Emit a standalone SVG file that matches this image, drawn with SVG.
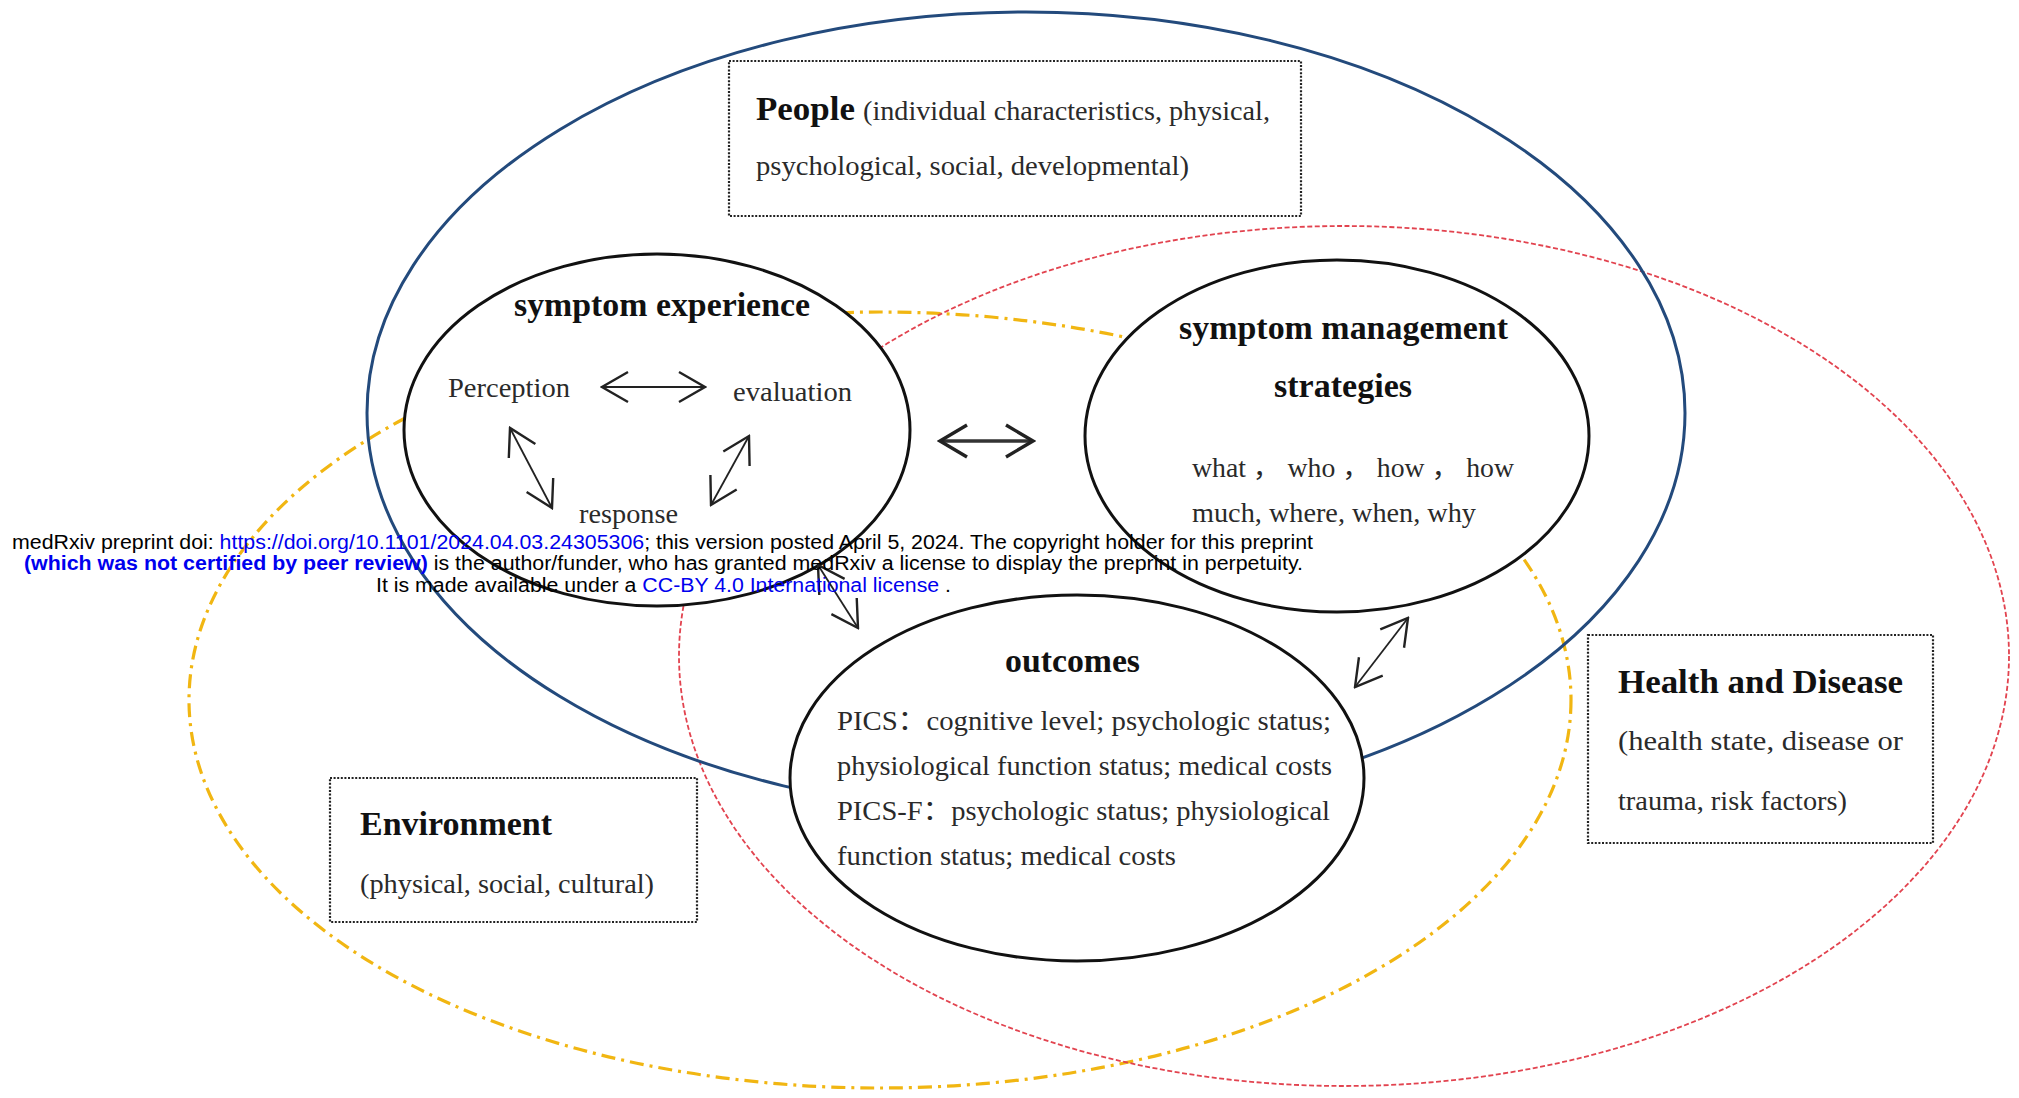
<svg xmlns="http://www.w3.org/2000/svg" width="2019" height="1098" viewBox="0 0 2019 1098">
<style>
.bg{fill:#ffffff}
.env{fill:none;stroke:#f1b612;stroke-width:3.2;stroke-dasharray:14 6 3 6}
.hd{fill:none;stroke:#e2434f;stroke-width:1.8;stroke-dasharray:5 2.5}
.ppl{fill:none;stroke:#234a7c;stroke-width:3}
.box{fill:#ffffff;stroke:#222;stroke-width:2.2;stroke-dasharray:2 1.6}
.node{fill:#ffffff;stroke:#111;stroke-width:3}
.t{font-family:"Liberation Serif","Times New Roman","Noto Sans CJK SC",serif;fill:#2a2a2a;font-size:27px}
.b{font-family:"Liberation Serif","Times New Roman","Noto Sans CJK SC",serif;fill:#111;font-weight:bold;font-size:33px}
.ar{fill:none;stroke:#222;stroke-width:1.8}
.arT{fill:none;stroke:#333;stroke-width:3.4}
.wm{font-family:"Liberation Sans",Arial,sans-serif;font-size:19.5px;fill:#000}
.lk{fill:#0000ee}
</style>
<defs>
<marker id="ah" viewBox="0 0 30 34" refX="28" refY="17" markerWidth="30" markerHeight="34" markerUnits="userSpaceOnUse" orient="auto-start-reverse">
<path d="M2,2 L28,17 L2,32" fill="none" stroke="#222" stroke-width="2.4"/>
</marker>
<marker id="ahT" viewBox="0 0 32 36" refX="29" refY="18" markerWidth="32" markerHeight="36" markerUnits="userSpaceOnUse" orient="auto-start-reverse">
<path d="M2,2 L29,18 L2,34" fill="none" stroke="#222" stroke-width="3.4"/>
</marker>
</defs>
<rect class="bg" x="0" y="0" width="2019" height="1098"/>

<g id="environment">
<ellipse class="env" cx="880" cy="700" rx="691" ry="388"/>
</g>
<g id="health-disease">
<ellipse class="hd" cx="1344" cy="656" rx="665" ry="430"/>
</g>
<g id="people">
<ellipse class="ppl" cx="1026" cy="413" rx="659" ry="401"/>
</g>

<g id="people-box">
<rect class="box" x="729" y="61" width="572" height="155"/>
<text class="b" x="756" y="120" font-size="32" textLength="99" lengthAdjust="spacingAndGlyphs">People</text>
<text class="t" x="863" y="120" font-size="28" textLength="407" lengthAdjust="spacingAndGlyphs">(individual characteristics, physical,</text>
<text class="t" x="756" y="175" font-size="28" textLength="433" lengthAdjust="spacingAndGlyphs">psychological, social, developmental)</text>
</g>

<g id="health-box">
<rect class="box" x="1588" y="635" width="345" height="208"/>
<text class="b" x="1618" y="693" font-size="32" textLength="285" lengthAdjust="spacingAndGlyphs">Health and Disease</text>
<text class="t" x="1618" y="750" textLength="285" lengthAdjust="spacingAndGlyphs">(health state, disease or</text>
<text class="t" x="1618" y="810" textLength="229" lengthAdjust="spacingAndGlyphs">trauma, risk factors)</text>
</g>

<g id="environment-box">
<rect class="box" x="330" y="778" width="367" height="144"/>
<text class="b" x="360" y="835" font-size="32" textLength="192" lengthAdjust="spacingAndGlyphs">Environment</text>
<text class="t" x="360" y="893" font-size="28" textLength="294" lengthAdjust="spacingAndGlyphs">(physical, social, cultural)</text>
</g>

<g id="symptom-experience">
<ellipse class="node" cx="657" cy="430" rx="253" ry="176"/>
<text class="b" x="514" y="316" font-size="34" textLength="296" lengthAdjust="spacingAndGlyphs">symptom experience</text>
<text class="t" x="448" y="397" textLength="122" lengthAdjust="spacingAndGlyphs">Perception</text>
<text class="t" x="733" y="401" textLength="119" lengthAdjust="spacingAndGlyphs">evaluation</text>
<text class="t" x="579" y="523" textLength="99" lengthAdjust="spacingAndGlyphs">response</text>
</g>

<g id="symptom-management">
<ellipse class="node" cx="1337" cy="436" rx="252" ry="176"/>
<text class="b" x="1179" y="339" font-size="34" textLength="329" lengthAdjust="spacingAndGlyphs">symptom management</text>
<text class="b" x="1274" y="397" font-size="34" textLength="138" lengthAdjust="spacingAndGlyphs">strategies</text>
<text class="t" x="1192" y="477" textLength="322" lengthAdjust="spacingAndGlyphs">what ， who ， how ， how</text>
<text class="t" x="1192" y="522" textLength="284" lengthAdjust="spacingAndGlyphs">much, where, when, why</text>
</g>

<g id="outcomes">
<ellipse class="node" cx="1077" cy="778" rx="287" ry="183"/>
<text class="b" x="1005" y="672" font-size="32" textLength="135" lengthAdjust="spacingAndGlyphs">outcomes</text>
<text class="t" x="837" y="730" textLength="494" lengthAdjust="spacingAndGlyphs">PICS：cognitive level;  psychologic status;</text>
<text class="t" x="837" y="775" textLength="495" lengthAdjust="spacingAndGlyphs">physiological function status;  medical costs</text>
<text class="t" x="837" y="820" textLength="493" lengthAdjust="spacingAndGlyphs">PICS-F：psychologic status;  physiological</text>
<text class="t" x="837" y="865" textLength="339" lengthAdjust="spacingAndGlyphs">function status;  medical costs</text>
</g>

<g id="connectors">
<line class="ar" x1="602" y1="387" x2="705" y2="387" marker-start="url(#ah)" marker-end="url(#ah)"/>
<line class="ar" x1="510" y1="428" x2="552" y2="508" marker-start="url(#ah)" marker-end="url(#ah)"/>
<line class="ar" x1="749" y1="436" x2="711" y2="505" marker-start="url(#ah)" marker-end="url(#ah)"/>
<line class="arT" x1="940" y1="441" x2="1033" y2="441" marker-start="url(#ahT)" marker-end="url(#ahT)"/>
<line class="ar" x1="818" y1="565" x2="858" y2="628" marker-start="url(#ah)" marker-end="url(#ah)"/>
<line class="ar" x1="1408" y1="618" x2="1355" y2="687" marker-start="url(#ah)" marker-end="url(#ah)"/>
</g>

<g id="watermark">
<text class="wm" x="12" y="549" textLength="1301" lengthAdjust="spacingAndGlyphs">medRxiv preprint doi: <tspan class="lk">https://doi.org/10.1101/2024.04.03.24305306</tspan>; this version posted April 5, 2024. The copyright holder for this preprint</text>
<text class="wm" x="24" y="570" textLength="1279" lengthAdjust="spacingAndGlyphs"><tspan class="lk" font-weight="bold">(which was not certified by peer review)</tspan> is the author/funder, who has granted medRxiv a license to display the preprint in perpetuity.</text>
<text class="wm" x="376" y="592" textLength="575" lengthAdjust="spacingAndGlyphs">It is made available under a <tspan class="lk">CC-BY 4.0 International license</tspan> .</text>
</g>
</svg>
